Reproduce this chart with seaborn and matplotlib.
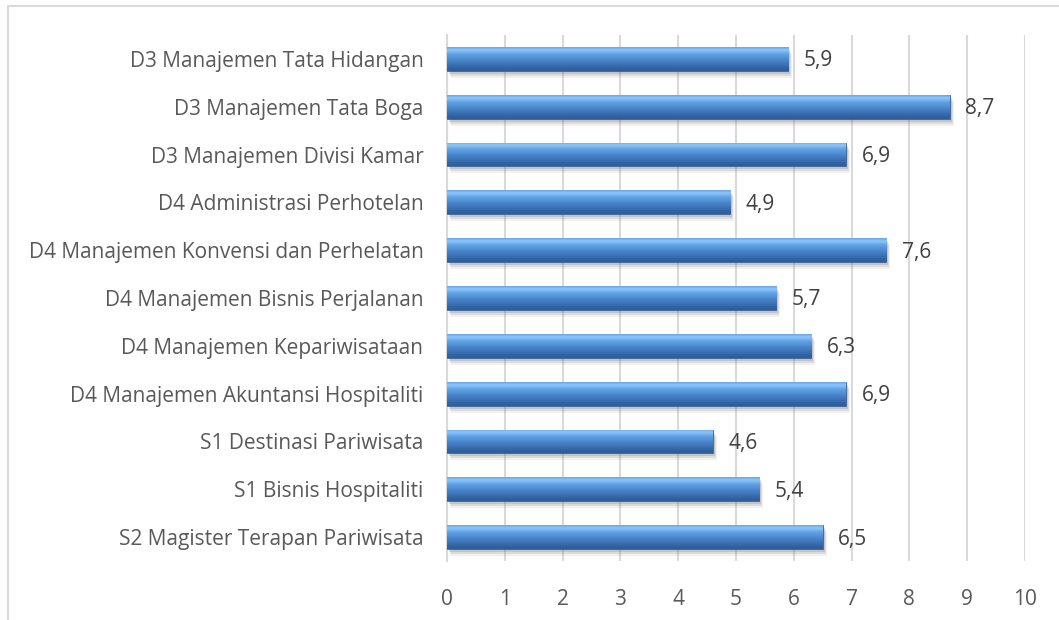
import numpy as np
import pandas as pd
import matplotlib
matplotlib.use("Agg")
import matplotlib.pyplot as plt
import seaborn as sns
from matplotlib.patches import Rectangle
import matplotlib.transforms as mtransforms
from matplotlib.colors import LinearSegmentedColormap

categories = [
    "D3 Manajemen Tata Hidangan",
    "D3 Manajemen Tata Boga",
    "D3 Manajemen Divisi Kamar",
    "D4 Administrasi Perhotelan",
    "D4 Manajemen Konvensi dan Perhelatan",
    "D4 Manajemen Bisnis Perjalanan",
    "D4 Manajemen Kepariwisataan",
    "D4 Manajemen Akuntansi Hospitaliti",
    "S1 Destinasi Pariwisata",
    "S1 Bisnis Hospitaliti",
    "S2 Magister Terapan Pariwisata",
]
values = [5.9, 8.7, 6.9, 4.9, 7.6, 5.7, 6.3, 6.9, 4.6, 5.4, 6.5]
x_ticks = [0, 1, 2, 3, 4, 5, 6, 7, 8, 9, 10]

sns.set_theme(style="white")
plt.rcParams["font.family"] = ["Open Sans", "DejaVu Sans"]

df = pd.DataFrame({"prodi": categories, "nilai": values})

fig = plt.figure(figsize=(10.59, 6.2), dpi=100)
ax = fig.add_axes([447 / 1059, 1 - 561 / 620, (1025 - 447) / 1059, (561 - 35) / 620])

sns.barplot(data=df, x="nilai", y="prodi", orient="h", color="#3d75bd",
            width=0.5, ax=ax, zorder=3)

ax.set_xlim(0, 10)
ax.set_ylim(len(categories) - 0.5, -0.5)
ax.set_xticks(x_ticks)
ax.set_xticklabels([str(t) for t in x_ticks])
ax.grid(axis="x", color="#d9d9d9", linewidth=1.5, zorder=0)
ax.grid(axis="y", visible=False)
for s in ["top", "right", "bottom"]:
    ax.spines[s].set_visible(False)
ax.spines["left"].set_color("#d9d9d9")
ax.spines["left"].set_linewidth(1.5)
ax.set_xlabel("")
ax.set_ylabel("")
ax.tick_params(axis="both", length=0, labelsize=15, colors="#595959")
ax.tick_params(axis="x", pad=20)
ax.tick_params(axis="y", pad=17)

grad = np.linspace(0, 1, 100).reshape(-1, 1)
cmap = LinearSegmentedColormap.from_list(
    "bar", [(0.0, "#6aa6e8"), (0.12, "#8cc6fa"), (0.3, "#62a0e2"),
            (0.6, "#4580c6"), (0.85, "#3466a6"), (1.0, "#2e5c96")])
for p in list(ax.patches):
    x0, y0 = p.get_x(), p.get_y()
    w, h = p.get_width(), p.get_height()
    for dx, dy, a in [(4, -7, 0.10), (3, -5, 0.18), (2, -3, 0.25)]:
        tr = mtransforms.offset_copy(ax.transData, fig=fig, x=dx, y=dy, units="dots")
        ax.add_patch(Rectangle((x0, y0), w, h, transform=tr, facecolor="#7f7f7f",
                               alpha=a, edgecolor="none", zorder=2))
    im = ax.imshow(grad, extent=[x0, x0 + w, y0 + h, y0], aspect="auto",
                   cmap=cmap, zorder=4, origin="upper")
    im.set_clip_path(p)
    p.set_zorder(4)
    p.set_facecolor("none")
    p.set_edgecolor("#2e5c96")
    p.set_linewidth(0.6)

ax.set_xlim(0, 10)
ax.set_ylim(len(categories) - 0.5, -0.5)

for i, v in enumerate(values):
    ax.text(v + 0.27, i + 0.04, f"{v:.1f}".replace(".", ","), va="center", ha="left",
            fontsize=15, color="#404040", zorder=5)

fig.add_artist(plt.Line2D([8 / 1059, 1], [1 - 6 / 620, 1 - 6 / 620],
                          transform=fig.transFigure, color="#d9d9d9", linewidth=1.5))
fig.add_artist(plt.Line2D([8 / 1059, 8 / 1059], [0, 1 - 6 / 620],
                          transform=fig.transFigure, color="#d9d9d9", linewidth=1.5))

fig.savefig("out.png", dpi=100)
